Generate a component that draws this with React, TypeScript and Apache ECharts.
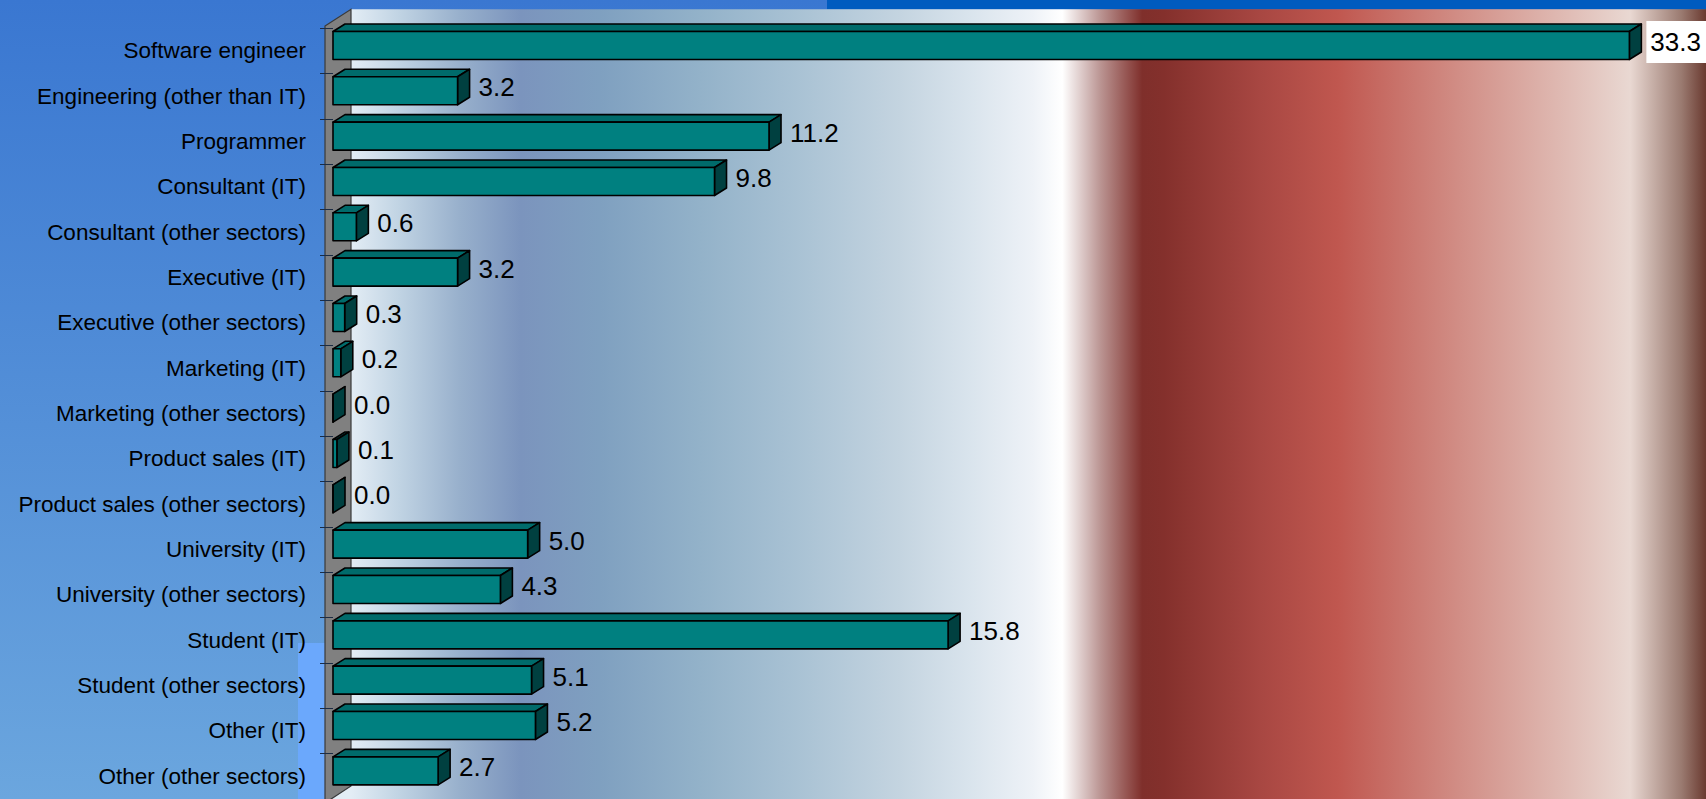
import React, { useEffect, useRef } from "react";
import * as echarts from "echarts";

const categories: string[] = [
  "Software engineer",
  "Engineering (other than IT)",
  "Programmer",
  "Consultant (IT)",
  "Consultant (other sectors)",
  "Executive (IT)",
  "Executive (other sectors)",
  "Marketing (IT)",
  "Marketing (other sectors)",
  "Product sales (IT)",
  "Product sales (other sectors)",
  "University (IT)",
  "University (other sectors)",
  "Student (IT)",
  "Student (other sectors)",
  "Other (IT)",
  "Other (other sectors)",
];

const values: number[] = [
  33.3, 3.2, 11.2, 9.8, 0.6, 3.2, 0.3, 0.2, 0.0, 0.1, 0.0, 5.0, 4.3, 15.8, 5.1, 5.2, 2.7,
];

const W = 1706;
const H = 799;
const FONT = '"Liberation Sans", Arial, sans-serif';

export default function App() {
  const ref = useRef<HTMLDivElement>(null);

  useEffect(() => {
    if (!ref.current) return;
    const chart = echarts.init(ref.current, null, { renderer: "svg" });

    const wallGrad = new echarts.graphic.LinearGradient(
      351, 0, 1706, 0,
      [
        { offset: 0, color: "#e3edf5" },
        { offset: 0.036, color: "#c0d3e3" },
        { offset: 0.08, color: "#98b0cc" },
        { offset: 0.125, color: "#7b94bd" },
        { offset: 0.184, color: "#7fa0c0" },
        { offset: 0.258, color: "#93b2c9" },
        { offset: 0.33, color: "#a9c2d4" },
        { offset: 0.405, color: "#c4d4e0" },
        { offset: 0.454, color: "#d8e3ec" },
        { offset: 0.503, color: "#eef2f7" },
        { offset: 0.525, color: "#ffffff" },
        { offset: 0.553, color: "#bb9593" },
        { offset: 0.584, color: "#7f2f2b" },
        { offset: 0.6, color: "#84302c" },
        { offset: 0.671, color: "#a84742" },
        { offset: 0.728, color: "#c0574f" },
        { offset: 0.822, color: "#d29088" },
        { offset: 0.898, color: "#e0bcb5" },
        { offset: 0.944, color: "#e9d8d2" },
        { offset: 0.982, color: "#9a7a70" },
        { offset: 1, color: "#6a3a30" },
      ],
      true
    );

    const bgGrad = new echarts.graphic.LinearGradient(0, 0, 0, 1, [
      { offset: 0, color: "#3a77d1" },
      { offset: 1, color: "#6ba6de" },
    ]);

    const maxV = Math.max(...values);

    const option: any = {
      animation: false,
      grid: {
        left: 333,
        top: 28.3,
        height: 17 * 45.56,
        width: 35 * 38.93,
        containLabel: false,
      },
      xAxis: {
        type: "value",
        min: 0,
        max: 35,
        show: false,
      },
      yAxis: {
        type: "category",
        data: categories,
        inverse: true,
        offset: 8,
        axisLine: { show: false },
        axisTick: {
          show: true,
          length: 13,
          lineStyle: { color: "#1c2c44", width: 1 },
        },
        axisLabel: {
          margin: 19,
          fontSize: 22.5,
          color: "#000",
          fontFamily: FONT,
        },
        splitLine: { show: false },
      },
      graphic: [
        {
          type: "rect",
          z: -100,
          shape: { x: 0, y: 0, width: W, height: H },
          style: { fill: bgGrad },
        },
        {
          type: "rect",
          z: -99,
          shape: { x: 827, y: 0, width: W - 827, height: 9.3 },
          style: { fill: "#005bbf" },
        },
        {
          type: "rect",
          z: -99,
          shape: { x: 298, y: 643, width: 27, height: 160 },
          style: { fill: "#6ba8fc" },
        },
        {
          type: "rect",
          z: -98,
          shape: { x: 351, y: 9.3, width: W - 351, height: 777 },
          style: { fill: wallGrad },
        },
        {
          type: "polygon",
          z: -97,
          shape: { points: [[325, 803], [351, 786], [W, 786], [W, 803]] },
          style: { fill: wallGrad },
        },
        {
          type: "polygon",
          z: -96,
          shape: { points: [[325, 26], [351, 9.3], [351, 786], [325, 803]] },
          style: { fill: "#808080", stroke: "#3a3a3a", lineWidth: 1.2 },
        },
      ],
      series: [
        {
          type: "custom",
          coordinateSystem: "cartesian2d",
          data: values.map((v, i) => [v, i]),
          encode: { x: 0, y: 1 },
          renderItem: (params: any, api: any) => {
            const v = api.value(0);
            const ci = api.value(1);
            const p0 = api.coord([0, ci]);
            const p1 = api.coord([v, ci]);
            const c = p0[1];
            const x0 = p0[0];
            const x1 = p1[0];
            const yt = c - 19.5;
            const yb = c + 8.5;
            const dx = 12;
            const dy = -7.5;
            const stroke = { stroke: "#000", lineWidth: 1.6, lineJoin: "round" };
            const isMax = v === maxV;
            return {
              type: "group",
              children: [
                {
                  type: "polygon",
                  shape: { points: [[x0, yt], [x0 + dx, yt + dy], [x1 + dx, yt + dy], [x1, yt]] },
                  style: { fill: "#006b6b", ...stroke },
                },
                {
                  type: "polygon",
                  shape: { points: [[x1, yt], [x1 + dx, yt + dy], [x1 + dx, yb + dy], [x1, yb]] },
                  style: { fill: "#004040", ...stroke },
                },
                {
                  type: "rect",
                  shape: { x: x0, y: yt, width: x1 - x0, height: yb - yt },
                  style: { fill: "#008080", ...stroke },
                },
                {
                  type: "text",
                  x: x1 + dx + (isMax ? 5 : 9),
                  y: c - 9,
                  style: {
                    text: v.toFixed(1),
                    fill: "#000",
                    fontSize: 26,
                    fontFamily: FONT,
                    align: "left",
                    verticalAlign: "middle",
                    backgroundColor: isMax ? "#ffffff" : undefined,
                    padding: isMax ? [8, 8, 8, 4] : 0,
                  },
                },
              ],
            };
          },
        },
      ],
    };

    chart.setOption(option);
    return () => chart.dispose();
  }, []);

  return (
    <div
      ref={ref}
      style={{ position: "absolute", left: 0, top: 0, width: W, height: H }}
    />
  );
}
